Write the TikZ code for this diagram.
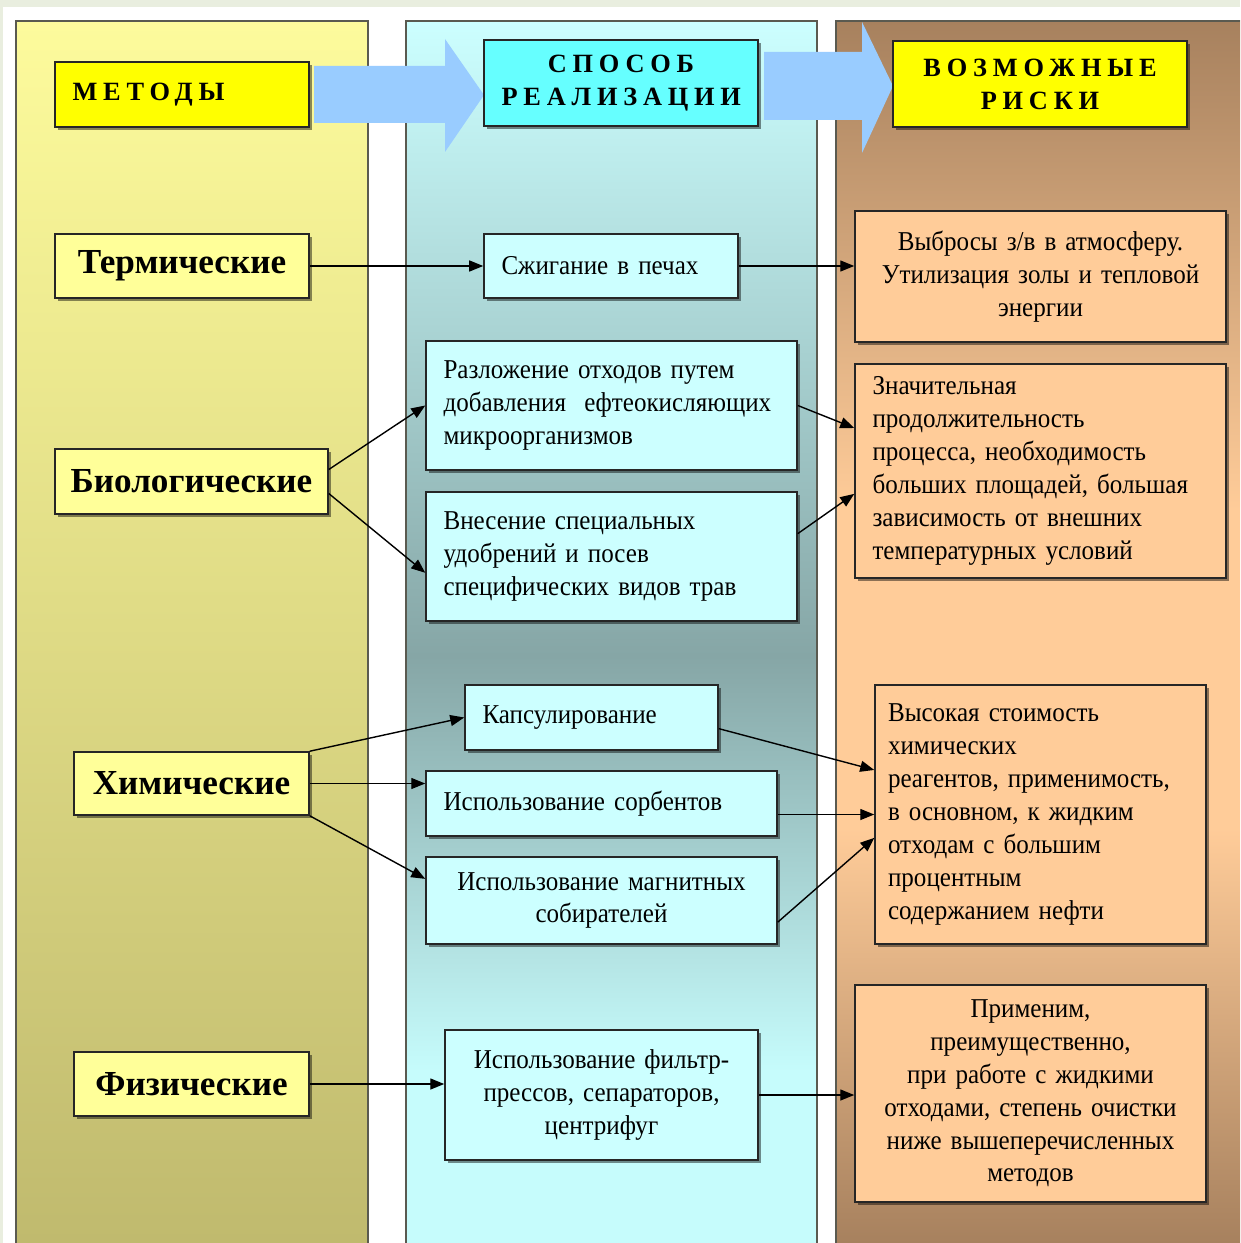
\documentclass[tikz,border=0pt]{standalone}
\usepackage{fontspec}
\setmainfont{Liberation Serif}
\newfontfamily\narrowserif{Liberation Serif}[FakeStretch=0.92]
\usetikzlibrary{arrows.meta, positioning, shadows}

\definecolor{outerbg}{HTML}{E9EEDF}
\definecolor{colline}{HTML}{5A5A50}
\definecolor{lefttop}{HTML}{FDFB9C}
\definecolor{leftbottom}{HTML}{C0BA6E}
\definecolor{midtop}{HTML}{CCFFFF}
\definecolor{middark}{HTML}{86A6A6}
\definecolor{midbottom}{HTML}{C6FCFC}
\definecolor{riskbrown}{HTML}{A7815E}
\definecolor{riskpeach}{HTML}{FFCC99}
\definecolor{bigarrow}{HTML}{99CCFF}
\definecolor{headyellow}{HTML}{FFFF00}
\definecolor{headcyan}{HTML}{66FFFF}
\definecolor{leftfill}{HTML}{FFFF99}
\definecolor{midfill}{HTML}{CCFFFF}
\definecolor{rightfill}{HTML}{FFCC99}

\pgfdeclareverticalshading{wayshade}{100bp}{color(0bp)=(midbottom); color(25bp)=(midbottom);
  color(32bp)=(midbottom); color(49bp)=(middark); color(75bp)=(midtop); color(100bp)=(midtop)}
\pgfdeclareverticalshading{riskshade}{100bp}{color(0bp)=(riskbrown); color(25bp)=(riskbrown);
  color(42bp)=(riskpeach); color(55bp)=(riskpeach); color(75bp)=(riskbrown); color(100bp)=(riskbrown)}

\newcommand{\boxfont}{\narrowserif\fontsize{15.5}{18.7}\selectfont}
\newcommand{\headfont}{\fontsize{15}{18.7}\selectfont\bfseries\addfontfeature{LetterSpace=22}}

\begin{document}
\begin{tikzpicture}[x=0.02cm, y=-0.02cm,
  box/.style={draw=black!85, line width=0.9pt, inner xsep=0.35cm, inner ysep=0pt,
    drop shadow={shadow xshift=0.06cm, shadow yshift=-0.06cm, fill=black, opacity=0.45}},
  headbox/.style={box, font=\headfont, align=center},
  methodbox/.style={box, fill=leftfill, font=\fontsize{20}{24}\selectfont\bfseries, inner xsep=0pt},
  waybox/.style={box, fill=midfill, font=\boxfont},
  riskbox/.style={box, fill=rightfill, font=\boxfont},
  link/.style={-{Triangle[length=0.28cm, width=0.22cm]}, line width=0.8pt}]

\useasboundingbox (0,0) rectangle (1240,1243);

% page
\fill[outerbg] (0,0) rectangle (1240,1243);
\fill[white] (3,7) rectangle (1240,1243);

% columns from left to right
\shade[top color=lefttop, bottom color=leftbottom] (16,21) rectangle (368,1243);
\shade[shading=wayshade] (406,21) rectangle (817,1243);
\shade[shading=riskshade] (836,21) rectangle (1240,1243);
\draw[colline, line width=0.7pt] (16,1243) |- (368,21) -- (368,1243);
\draw[colline, line width=0.7pt] (406,1243) |- (817,21) -- (817,1243);
\draw[colline, line width=0.7pt] (836,1243) |- (1240,21);

% big arrows between headers
\fill[bigarrow] (314,66) -- (445,66) -- (445,39) -- (484,95) -- (445,152) -- (445,123) -- (314,123) -- cycle;
\fill[bigarrow] (764,52) -- (862,52) -- (862,22) -- (893,86) -- (862,153) -- (862,120) -- (764,120) -- cycle;

% headers
\node[headbox, fill=headyellow, align=left, text width=4.38cm, minimum height=1.3cm] (metody) at (182,94.5) {МЕТОДЫ};
\node[headbox, fill=headcyan, text width=4.78cm, minimum height=1.72cm] (sposob) at (621,83) {СПОСОБ\\РЕАЛИЗАЦИИ};
\node[headbox, fill=headyellow, text width=5.18cm, minimum height=1.72cm] (riski) at (1040,84) {ВОЗМОЖНЫЕ\\РИСКИ};

% methods
\node[methodbox, minimum width=5.08cm, minimum height=1.28cm] (term) at (182,266) {Термические};
\node[methodbox, minimum width=5.46cm, minimum height=1.3cm] (bio) at (191.5,481.5) {Биологические};
\node[methodbox, minimum width=4.7cm, minimum height=1.26cm] (chem) at (191.5,783.5) {Химические};
\node[methodbox, minimum width=4.7cm, minimum height=1.28cm] (phys) at (191.5,1084) {Физические};

% ways of realisation
\node[waybox, align=left, text width=4.38cm, minimum height=1.28cm] (burn) at (611,266) {Сжигание в печах};
\node[waybox, align=left, text width=6.72cm, minimum height=2.58cm] (decomp) at (611.5,405.5)
  {Разложение отходов путем\\добавления~ ефтеокисляющих\\микроорганизмов};
\node[waybox, align=left, text width=6.72cm, minimum height=2.58cm] (fert) at (611.5,556.5)
  {Внесение специальных\\удобрений и посев\\специфических видов трав};
\node[waybox, align=left, text width=4.36cm, minimum height=1.3cm] (caps) at (591.5,717.5) {Капсулирование};
\node[waybox, align=left, text width=6.32cm, minimum height=1.3cm] (sorb) at (601.5,803.5) {Использование сорбентов};
\node[waybox, align=center, text width=6.32cm, minimum height=1.74cm] (magn) at (601.5,900.5)
  {Использование магнитных\\собирателей};
\node[waybox, align=center, text width=5.56cm, minimum height=2.6cm] (filt) at (601.5,1095)
  {Использование фильтр-\\прессов, сепараторов,\\центрифуг};

% risks
\node[riskbox, align=center, text width=6.72cm, minimum height=2.62cm] (emis) at (1040.5,276.5)
  {Выбросы з/в в атмосферу.\\Утилизация золы и тепловой\\энергии};
\node[riskbox, align=left, text width=6.72cm, minimum height=4.28cm] (long) at (1040.5,471)
  {Значительная\\продолжительность\\процесса, необходимость\\больших площадей, большая\\зависимость от внешних\\температурных условий};
\node[riskbox, align=left, text width=6.1cm, inner xsep=0.26cm, minimum height=5.18cm] (cost) at (1040.5,814.5)
  {Высокая стоимость\\химических\\реагентов, применимость,\\в основном, к жидким\\отходам с большим\\процентным\\содержанием нефти};
\node[riskbox, align=center, text width=6.42cm, inner xsep=0.3cm, minimum height=4.34cm] (appl) at (1030.5,1093.5)
  {Применим,\\преимущественно,\\при работе с жидкими\\отходами, степень очистки\\ниже вышеперечисленных\\методов};

% methods to ways
\draw[link] (term.east) -- (burn.west);
\draw[link] (bio.5) -- (decomp.west);
\draw[link] (bio.-5) -- (fert.185);
\draw[link] (chem.north east) -- (caps.west);
\draw[link] (chem.east) -- (chem.east -| sorb.west);
\draw[link] (chem.south east) -- (magn.173);
\draw[link] (phys.east) -- (phys.east -| filt.west);

% ways to risks
\draw[link] (burn.east) -- (burn.east -| emis.west);
\draw[link] (decomp.east) -- (long.167);
\draw[link] (fert.7) -- (long.187);
\draw[link] (caps.-5) -- (cost.165);
\draw[link] (cost.west -| sorb.east) -- (cost.west);
\draw[link] (magn.-7) -- (cost.188);
\draw[link] (filt.east) -- (filt.east -| appl.west);

\end{tikzpicture}
\end{document}
